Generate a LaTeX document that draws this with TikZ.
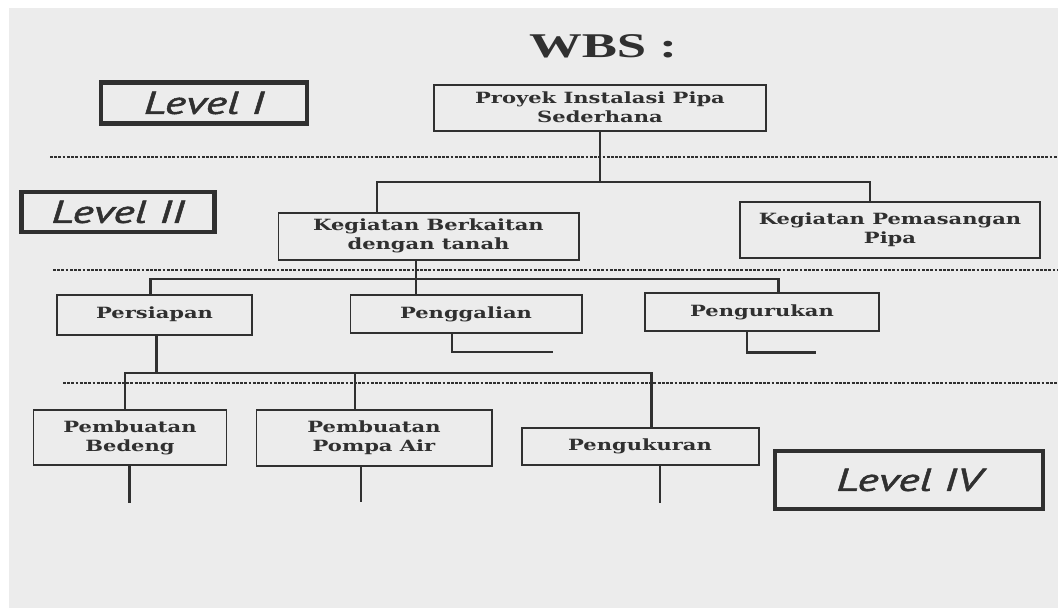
\documentclass[tikz,border=0pt]{standalone}
\usepackage{fontspec}
\usetikzlibrary{positioning}
\newfontfamily\titlefont[FakeStretch=1.52]{Liberation Serif}
\newfontfamily\boxfont[FakeStretch=1.36]{DejaVu Serif}
\newfontfamily\levelfont[FakeStretch=1.45, FakeBold=1.6]{PT Sans}
\definecolor{paper}{RGB}{236,236,236}
\definecolor{ink}{RGB}{48,48,48}
\newdimen\pxu \pxu=0.03cm
\tikzset{
  sz/.style 2 args={minimum width=#1\pxu, minimum height=#2\pxu},
  wbox/.style={draw=ink, line width=1.7pt, inner sep=0pt, align=center, text=ink,
    font=\boxfont\bfseries\fontsize{13.2}{16.4}\selectfont},
  lvlbox/.style={draw=ink, line width=4.2pt, inner sep=0pt, text=ink,
    font=\levelfont\itshape\fontsize{27}{30}\selectfont},
  conn/.style={draw=ink, line width=1.8pt},
  sepline/.style={draw=ink, line width=1.1pt, dash pattern=on 2.4pt off 1.2pt},
}

\begin{document}
\begin{tikzpicture}[x=0.03cm, y=-0.03cm]
  % --- paper ---
  \fill[white] (0,0) rectangle (1058,608);
  \fill[paper] (9,8) rectangle (1058,608);
  \useasboundingbox (0,0) rectangle (1058,608);

  \node[text=ink, font=\titlefont\bfseries\fontsize{29.6}{32}\selectfont] (title) at (603,46) {WBS :};

  % --- level markers ---
  \node[lvlbox, sz={206}{41}] (lvlI) at (204,103) {Level I};
  \node[lvlbox, sz={193}{40}] (lvlII) at (118,212) {Level II};
  \node[lvlbox, sz={268}{58}] (lvlIV) at (909,480) {Level IV};

  % --- level separators ---
  \draw[sepline] (50,157) -- (1058,157);
  \draw[sepline] (53,270) -- (1058,270);
  \draw[sepline] (63,383) -- (1058,383);

  % Level I
  \node[wbox, sz={332}{46}] (proyek) at (600,107.5) {Proyek Instalasi Pipa\\Sederhana};

  % Level II
  \node[wbox, sz={300}{47}] (kb) at (428.5,236) {Kegiatan Berkaitan\\dengan tanah};
  \node[wbox, sz={300}{56}] (kp) at (890,230) {Kegiatan Pemasangan\\Pipa};

  % Level III
  \node[wbox, sz={195}{40}] (psp) at (154.6,314.5) {Persiapan};
  \node[wbox, sz={231}{38}] (pgl) at (466,314) {Penggalian};
  \node[wbox, sz={234}{38}] (pgr) at (762,312) {Pengurukan};

  % Level IV
  \node[wbox, sz={193}{55}] (bdg) at (130,437.5) {Pembuatan\\Bedeng};
  \node[wbox, sz={235}{56}] (pmp) at (374,437.7) {Pembuatan\\Pompa Air};
  \node[wbox, sz={237}{37}] (pgk) at (640,446.5) {Pengukuran};

  % junctions
  \coordinate (j2l) at (377,182);
  \coordinate (j2r) at (870,182);
  \coordinate (j3l) at (150.5,278.6);
  \coordinate (j3m) at (415.7,278.6);
  \coordinate (j3r) at (778.5,278.6);
  \coordinate (j4l) at (125,373);
  \coordinate (j4p) at (156.5,373);
  \coordinate (j4m) at (354.6,373);
  \coordinate (j4r) at (651.5,373);
  \coordinate (s1) at (452,352);
  \coordinate (s1e) at (553,352);
  \coordinate (s2) at (747,352.5);
  \coordinate (s2e) at (816,352.5);
  \coordinate (e1) at (129.5,503);
  \coordinate (e2) at (361.2,502);
  \coordinate (e3) at (659.7,503);

  % connectors
  \draw[conn] (proyek.south) -- (proyek.south |- j2l);
  \draw[conn] (kb.north -| j2l) |- (j2r) -- (j2r |- kp.north);

  \draw[conn] (kb.south -| j3m) -- (j3m |- pgl.north);
  \draw[conn] (psp.north -| j3l) |- (j3r) -- (j3r |- pgr.north);

  \draw[conn] (pgl.south -| s1) |- (s1e);
  \draw[conn] (pgr.south -| s2) |- (s2e);

  \draw[conn] (psp.south -| j4p) -- (j4p);
  \draw[conn] (bdg.north -| j4l) |- (j4r) -- (j4r |- pgk.north);
  \draw[conn] (j4m) -- (j4m |- pmp.north);

  \draw[conn] (bdg.south -| e1) -- (e1);
  \draw[conn] (pmp.south -| e2) -- (e2);
  \draw[conn] (pgk.south -| e3) -- (e3);
\end{tikzpicture}
\end{document}
